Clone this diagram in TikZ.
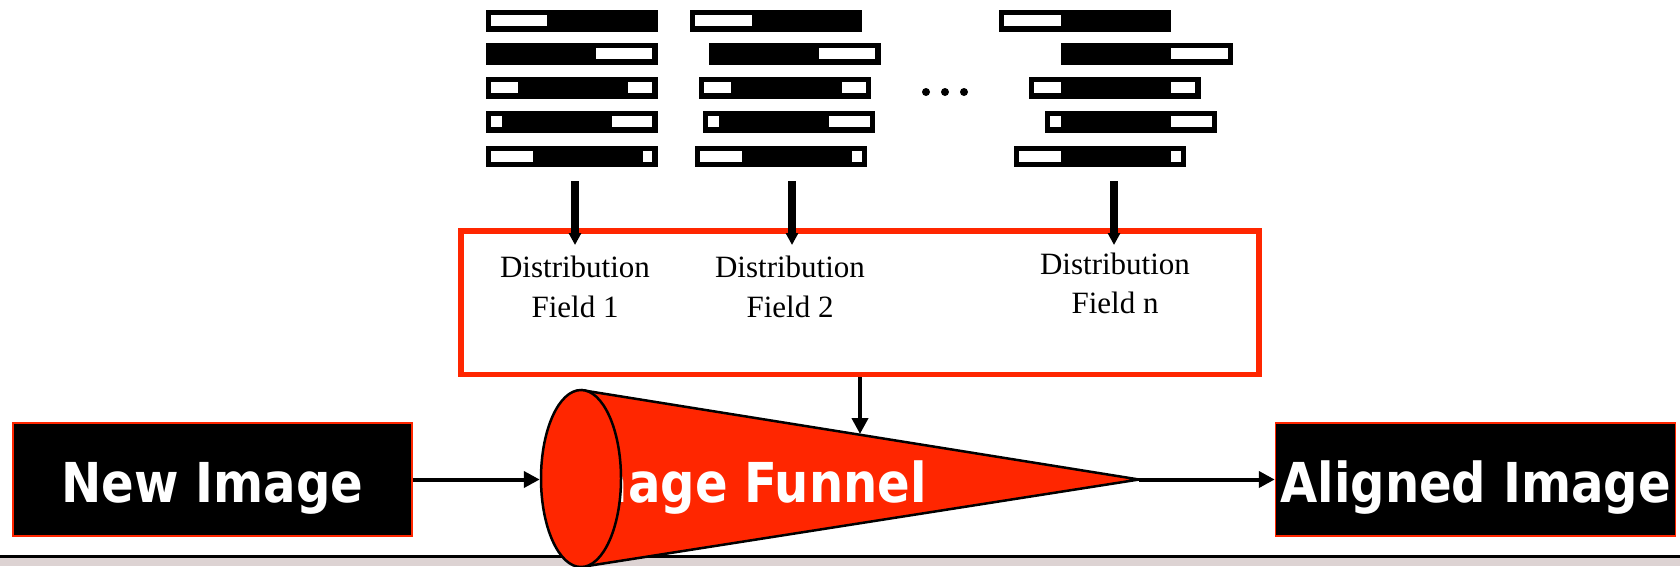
\documentclass[tikz,border=0pt]{standalone}
\usepackage{fontspec}
\setmainfont{Liberation Serif}
\newfontfamily\boldsans{DejaVu Sans}[FakeStretch=0.875]
\usetikzlibrary{arrows.meta,shapes.geometric}
\definecolor{funnelred}{RGB}{255,38,0}
\definecolor{bandgray}{RGB}{221,211,211}

% one black bar with its white gaps: #1 left, #2 top, #3 list of gap spans
\newcommand\dfbar[3]{%
  \fill[black] (#1,#2) rectangle ++(172,21.7);
  \foreach \ga/\gb in {#3}
    \fill[white] ({#1+\ga},{#2+5}) rectangle ({#1+\gb},{#2+16});
}
% a column of five bars, each shifted by its own left edge
\newcommand\dfcolumn[5]{%
  \dfbar{#1}{10}{5/61.7}
  \dfbar{#2}{43.3}{110/166.7}
  \dfbar{#3}{77.3}{5/32, 142.3/166.7}
  \dfbar{#4}{111}{5/16, 126/166.7}
  \dfbar{#5}{145.7}{5/47, 157/166.7}
}

\begin{document}
\begin{tikzpicture}[x=1pt,y=-1pt,
  imgbox/.style={fill=black, draw=funnelred, line width=1.5pt, text=white,
    minimum width=399pt, minimum height=113pt, inner sep=0pt,
    text height=45pt, text depth=0pt,
    font=\boldsans\bfseries\fontsize{55}{60}\selectfont},
  fieldtext/.style={anchor=base, inner sep=0pt, font=\fontsize{31}{40}\selectfont},
  feed/.style={line width=7.5pt, -{Triangle[length=12pt,width=12pt]}},
  link/.style={line width=4pt, -{Triangle[length=16pt,width=16pt]}},
  outline/.style={draw=black, line width=2.5pt, line join=round}]
\useasboundingbox (0,0) rectangle (1680,566);

% bottom band
\fill[bandgray] (0,557.5) rectangle (1680,566);
\draw[line width=2.5pt] (0,556.5) -- (1680,556.5);

% bar columns
\dfcolumn{485.7}{485.7}{485.7}{485.7}{485.7}
\dfcolumn{690}{708.7}{699.3}{703.3}{695.3}
\dfcolumn{999.3}{1061}{1028.7}{1045}{1014}
\foreach \dx in {926,945,964} \fill (\dx,92) circle (4);

% distribution fields
\node[draw=funnelred, line width=5.5pt, minimum width=798pt,
      minimum height=143.5pt, inner sep=0pt] (dfbox) at (860,302.75) {};
\node[fieldtext] (f1a) at (575,277) {Distribution};
\node[fieldtext] (f1b) at (575,317) {Field 1};
\node[fieldtext] (f2a) at (790,277) {Distribution};
\node[fieldtext] (f2b) at (790,317) {Field 2};
\node[fieldtext] (fna) at (1115,274) {Distribution};
\node[fieldtext] (fnb) at (1115,313) {Field n};

\coordinate (c1top) at (575,181);  \coordinate (c1end) at (575,245);
\coordinate (c2top) at (792,181);  \coordinate (c2end) at (792,245);
\coordinate (cntop) at (1114,181); \coordinate (cnend) at (1114,245);
\draw[feed] (c1top) -- (c1end);
\draw[feed] (c2top) -- (c2end);
\draw[feed] (cntop) -- (cnend);

% funnel
\coordinate (ftop) at (581,390);
\coordinate (ftip) at (1139,479.5);
\coordinate (fbot) at (581,567);
\fill[funnelred] (ftop) -- (ftip) -- (fbot) -- cycle;
\draw[outline] (ftop) -- (ftip) -- (fbot);
\node[anchor=base east, inner sep=0pt, text=white,
      font=\boldsans\bfseries\fontsize{55}{60}\selectfont] (funnellabel) at (927,502) {Image Funnel};
\node[ellipse, fill=funnelred, outline, minimum width=80pt, minimum height=177pt,
      inner sep=0pt] (mouth) at (581,478.5) {};

% input and output
\node[imgbox] (newimg) at (212.5,479.5) {New Image};
\node[imgbox, minimum width=400pt] (aligned) at (1475.5,479.5) {Aligned Image};

\coordinate (fhit) at (860,434);
\draw[link] (dfbox.south) -- (fhit);
\draw[link] (newimg.east) -- (newimg.east -| mouth.west);
\draw[link] (ftip) -- (aligned.west);
\end{tikzpicture}
\end{document}
